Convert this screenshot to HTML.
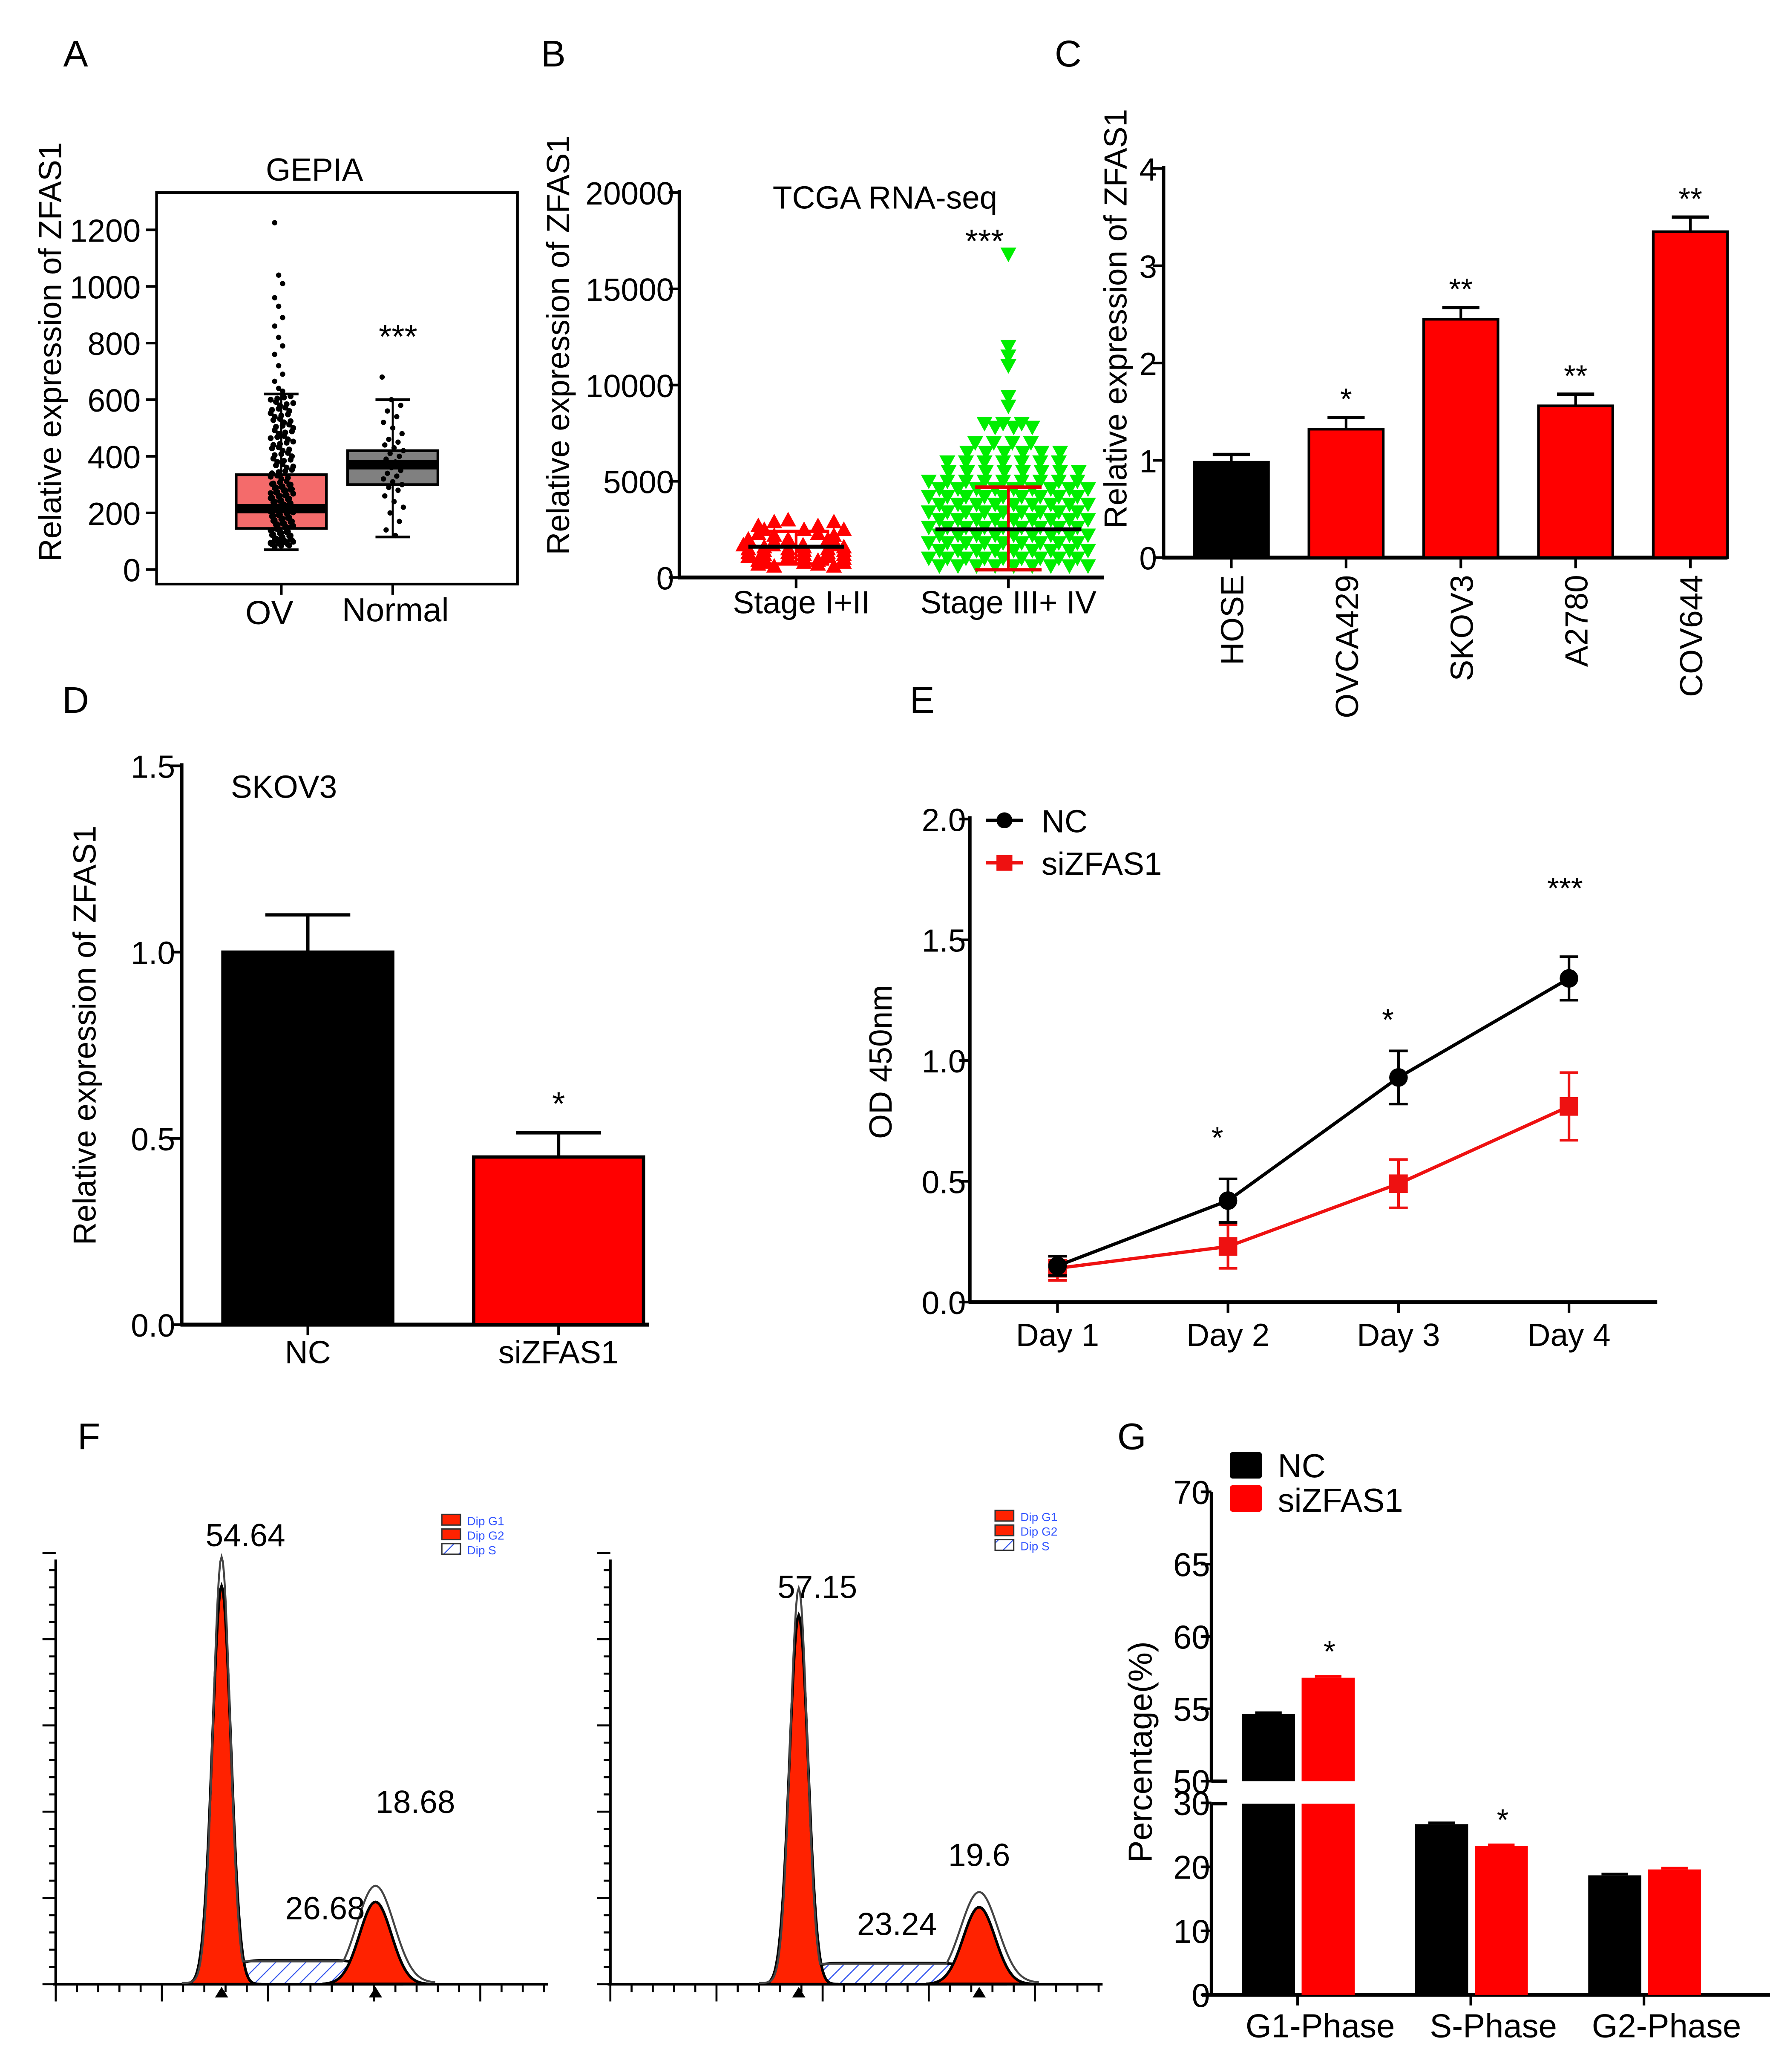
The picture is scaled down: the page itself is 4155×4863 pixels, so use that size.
<!DOCTYPE html>
<html><head><meta charset="utf-8">
<style>
html,body{margin:0;padding:0;background:#fff;}
svg{display:block;}
text{font-family:"Liberation Sans",Arial,sans-serif;fill:#000;}
</style></head>
<body>
<svg id="fig" xmlns="http://www.w3.org/2000/svg" width="4155" height="4863" viewBox="0 0 1334 1561">
<defs>
<pattern id="hatch" patternUnits="userSpaceOnUse" width="8" height="8" patternTransform="rotate(45)">
<rect width="8" height="8" fill="#fff"/><line x1="0" y1="0" x2="0" y2="8" stroke="#3355ee" stroke-width="1.6"/>
</pattern>
</defs>
<g id="root"></g>
</svg>
<script>
// ---------- DATA ----------
const aTicks=[0,200,400,600,800,1000,1200];
const aOVBox=[145,215,335,70,620];
const aNormBox=[300,370,420,115,600];
const aOVOut=[1225,1040,1010,960,930,890,860,820,790,760,720,690,665,640,630];
const aOVIn=[600,580,560,540,520,500,480,460,440,420,400,380,360,340,320,300,290,280,270,260,250,240,230,220,210,200,190,180,170,160,150,140,130,120,110,100,95,90,85,80];
const aNormPts=[680,600,580,560,540,520,500,480,460,450,440,430,420,410,400,390,380,370,360,350,340,330,320,310,300,290,280,260,240,220,200,170,140,120];
const bTicks=[0,5000,10000,15000,20000];
const bRedVals=[3000,2900,2700,2500,2300,2200,2000,1900,1700,1600,1500,1400,1300,1200,1100,1000,900,800,700,600];
const bRedCnt=[1,2,2,3,2,2,3,2,4,3,3,3,3,3,3,3,2,3,2,2];
const bRedMean=[1600,700,2400];
const bGreenVals=[16800,12000,11500,11000,9400,8900,8000,7800,7000,6500,6000,5500,5000,4600,4200,3800,3400,3000,2600,2200,1800,1400,1000,600];
const bGreenCnt=[1,1,1,1,1,1,3,3,4,6,7,8,9,9,9,9,9,9,9,9,9,9,9,9];
const bGreenMean=[2500,400,4700];
const cCats=["HOSE","OVCA429","SKOV3","A2780","COV644"];
const cVals=[0.98,1.32,2.45,1.56,3.35];
const cErr=[0.08,0.12,0.12,0.12,0.15];
const cStars=["","*","**","**","**"];
const cTicks=[0,1,2,3,4];
const dCats=["NC","siZFAS1"];
const dVals=[1.0,0.45];
const dErr=[0.1,0.065];
const dTicks=[0,0.5,1.0,1.5];
const eDays=["Day 1","Day 2","Day 3","Day 4"];
const eNC=[0.15,0.42,0.93,1.34];
const eNCerr=[0.04,0.09,0.11,0.09];
const eSi=[0.14,0.23,0.49,0.81];
const eSiErr=[0.05,0.09,0.1,0.14];
const eStars=["","*","*","***"];
const eTicks=[0,0.5,1.0,1.5,2.0];
const fLeft=[167,300,283,62,18];
const fRight=[602,278,738,58,16];
const fLeftLabels=["54.64","26.68","18.68"];
const fRightLabels=["57.15","23.24","19.6"];
const gCats=["G1-Phase","S-Phase","G2-Phase"];
const gNC=[54.64,26.68,18.68];
const gSi=[57.15,23.24,19.6];
const gStars=["*","*",""];
const gTicksLow=[0,10,20,30];
const gTicksHigh=[50,55,60,65,70];

const NS="http://www.w3.org/2000/svg";
const root=document.getElementById('root');
function mk(tag,attrs,parent){const e=document.createElementNS(NS,tag);for(const k in attrs)e.setAttribute(k,attrs[k]);(parent||root).appendChild(e);return e;}
function txt(x,y,s,size,anchor,parent,extra){const e=mk('text',Object.assign({x:x,y:y,'font-size':size,'text-anchor':anchor||'middle'},extra||{}),parent);e.textContent=s;return e;}
function line(x1,y1,x2,y2,w,col,parent){return mk('line',{x1:x1,y1:y1,x2:x2,y2:y2,stroke:col||'#000','stroke-width':w||2},parent);}
function grp(name){const g=mk('g',{});return g;}

[["A",57,50],["B",417,50],["C",805,50],["D",57,537],["E",695,537],["F",67,1092],["G",853,1092]].forEach(p=>{
 const t=txt(p[1],p[2],p[0],28,'middle');
 
 
});

// PANEL A
(function(){
 const g=grp('panel-a-gepia-boxplot');
 const y=v=>429-v*0.2133;
 mk('rect',{x:118,y:145,width:272,height:295,fill:'none',stroke:'#000','stroke-width':2},g);
 aTicks.forEach(t=>{line(110,y(t),118,y(t),2,'#000',g);txt(106,y(t)+9,String(t),24,'end',g);});
 txt(237,136,'GEPIA',24,'middle',g);
 const yt=txt(0,0,'Relative expression of ZFAS1',24,'middle',g,{transform:'translate(46,265) rotate(-90)'});
 
 line(212,440,212,448,2,'#000',g);line(296,440,296,448,2,'#000',g);
 txt(203,470,'OV',25,'middle',g);txt(298,468,'Normal',25,'middle',g);
 function box(cx,b,fill,name){
  const bg=mk('g',{},g);
  line(cx,y(b[4]),cx,y(b[3]),1.5,'#000',bg);
  line(cx-13,y(b[4]),cx+13,y(b[4]),2,'#000',bg);line(cx-13,y(b[3]),cx+13,y(b[3]),2,'#000',bg);
  mk('rect',{x:cx-34,y:y(b[2]),width:68,height:y(b[0])-y(b[2]),fill:fill,stroke:'#000','stroke-width':2},bg);
  mk('rect',{x:cx-34,y:y(b[1])-3.5,width:68,height:7,fill:'#000'},bg);
 }
 box(212,aOVBox,'#f46b6b','box-ov');
 box(296,aNormBox,'#808080','box-normal');
 aOVOut.forEach((v,i)=>{const c=mk('circle',{cx:207+(i%3)*3,cy:y(v),r:2,fill:'#000'},g);});
 aOVIn.forEach((v,i)=>{for(let k=0;k<4;k++){const c=mk('circle',{cx:204+((i*7+k*5)%18),cy:y(v+k*4),r:2.2,fill:'#000'},g);}});
 aNormPts.forEach((v,i)=>{const c=mk('circle',{cx:288+((i*7)%17),cy:y(v),r:2,fill:'#000'},g);});
 txt(300,262,'***',25,'middle',g);
})();

// PANEL B
(function(){
 const g=grp('panel-b-tcga-scatter');
 const y=v=>435-v*0.0145;
 line(512,143,512,436,2.5,'#000',g);line(511,435,832,435,3,'#000',g);
 bTicks.forEach(t=>{line(504,y(t),512,y(t),2,'#000',g);txt(508,y(t)+9,String(t),24,'end',g);});
 line(600,435,600,443,2,'#000',g);line(760,435,760,443,2,'#000',g);
 txt(604,462,'Stage I+II',24,'middle',g);txt(760,462,'Stage III+ IV',24,'middle',g);
 txt(667,157,'TCGA RNA-seq',24,'middle',g);txt(742,190,'***',25,'middle',g);
 txt(0,0,'Relative expression of ZFAS1',24,'middle',g,{transform:'translate(429,260) rotate(-90)'});
 function tri(cx,cy,up,col,name){const p=up?`${cx-6},${cy+5} ${cx+6},${cy+5} ${cx},${cy-6}`:`${cx-6},${cy-5} ${cx+6},${cy-5} ${cx},${cy+6}`;const e=mk('polygon',{points:p,fill:col},g);}
 bRedVals.forEach((v,i)=>{const n=bRedCnt[i];for(let k=0;k<n;k++){const off=(k-(n-1)/2)*(100/Math.max(n,1))*0.9+((i%2)?6:-6);tri(600+off,y(v),true,'#ff0000','point-stage-i-ii');}});
 bGreenVals.forEach((v,i)=>{const n=bGreenCnt[i];for(let k=0;k<n;k++){const off=(k-(n-1)/2)*14+((i%2)?4:-4)*(n>1?1:0);tri(760+off,y(v),false,'#00ee00','point-stage-iii-iv');}});
 function meanbar(cx,m,col,w){line(cx,y(m[2]),cx,y(m[1]),2,col,g);line(cx-25,y(m[2]),cx+25,y(m[2]),2.5,col,g);line(cx-25,y(m[1]),cx+25,y(m[1]),2.5,col,g);line(cx-w,y(m[0]),cx+w,y(m[0]),3,'#000',g);}
 meanbar(600,bRedMean,'#ff0000',36);meanbar(760,bGreenMean,'#e00000',55);
})();

// PANEL C
(function(){
 const g=grp('panel-c-cell-lines-bar');
 const y=v=>420-v*73.3;
 line(877,125,877,421,2.5,'#000',g);line(876,420,1302,420,3,'#000',g);
 cTicks.forEach(t=>{line(869,y(t),877,y(t),2,'#000',g);txt(872,y(t)+9,String(t),24,'end',g);});
 txt(0,0,'Relative expression of ZFAS1',24,'middle',g,{transform:'translate(849,240) rotate(-90)'});
 cVals.forEach((v,i)=>{
  const cx=928+i*86.5;
  const r=mk('rect',{x:cx-28,y:y(v),width:56,height:y(0)-y(v),fill:i==0?'#000':'#ff0000',stroke:'#000','stroke-width':2},g);
  
  line(cx,y(v),cx,y(v+cErr[i]),2,'#000',g);line(cx-14,y(v+cErr[i]),cx+14,y(v+cErr[i]),2.5,'#000',g);
  if(cStars[i])txt(cx,y(v+cErr[i])-6,cStars[i],23,'middle',g);
  line(cx,420,cx,428,2,'#000',g);
  txt(0,0,cCats[i],24,'end',g,{transform:`translate(${cx+9},433) rotate(-90)`});
 });
})();

// PANEL D
(function(){
 const g=grp('panel-d-skov3-bar');
 const y=v=>998-v*280.7;
 line(137,575,137,999,2.5,'#000',g);line(136,998,489,998,3,'#000',g);
 dTicks.forEach(t=>{line(129,y(t),137,y(t),2,'#000',g);txt(132,y(t)+9,t.toFixed(1),24,'end',g);});
 txt(214,601,'SKOV3',24,'middle',g);
 txt(0,0,'Relative expression of ZFAS1',24,'middle',g,{transform:'translate(72,780) rotate(-90)'});
 dVals.forEach((v,i)=>{
  const cx=232+i*189;
  const r=mk('rect',{x:cx-64,y:y(v),width:128,height:y(0)-y(v),fill:i==0?'#000':'#ff0000',stroke:'#000','stroke-width':2.5},g);
  
  line(cx,y(v),cx,y(v+dErr[i]),2.5,'#000',g);line(cx-32,y(v+dErr[i]),cx+32,y(v+dErr[i]),2.5,'#000',g);
  line(cx,998,cx,1006,2,'#000',g);
  txt(cx,1027,dCats[i],24,'middle',g);
 });
 txt(421,840,'*',25,'middle',g);
})();

// PANEL E
(function(){
 const g=grp('panel-e-proliferation-line');
 const y=v=>981-v*182;
 const x=i=>797+i*128.5;
 line(731,615,731,982,2.5,'#000',g);line(730,981,1249,981,3,'#000',g);
 eTicks.forEach(t=>{line(723,y(t),731,y(t),2,'#000',g);txt(728,y(t)+9,t.toFixed(1),24,'end',g);});
 txt(0,0,'OD 450nm',24,'middle',g,{transform:'translate(672,800) rotate(-90)'});
 eDays.forEach((d,i)=>{line(x(i),981,x(i),989,2,'#000',g);txt(x(i),1014,d,24,'middle',g);});
 function series(vals,errs,col,sq,name){
  const sg=mk('g',{},g);
  mk('polyline',{points:vals.map((v,i)=>x(i)+','+y(v)).join(' '),fill:'none',stroke:col,'stroke-width':2.5},sg);
  vals.forEach((v,i)=>{line(x(i),y(v+errs[i]),x(i),y(v-errs[i]),2,col,sg);line(x(i)-7,y(v+errs[i]),x(i)+7,y(v+errs[i]),2,col,sg);line(x(i)-7,y(v-errs[i]),x(i)+7,y(v-errs[i]),2,col,sg);
   if(sq)mk('rect',{x:x(i)-7,y:y(v)-7,width:14,height:14,fill:col},sg);else mk('circle',{cx:x(i),cy:y(v),r:7,fill:col},sg);});
 }
 series(eSi,eSiErr,'#ee1111',true,'series-sizfas1');
 series(eNC,eNCerr,'#000',false,'series-nc');
 eStars.forEach((s,i)=>{if(s)txt(x(i)-(i==3?3:8),[0,865,776,677][i],s,23,'middle',g);});
 line(743,618,771,618,2.5,'#000',g);mk('circle',{cx:757,cy:618,r:6,fill:'#000'},g);txt(785,627,'NC',24,'start',g);
 line(743,650,771,650,2.5,'#ee1111',g);mk('rect',{x:751,y:644,width:12,height:12,fill:'#ee1111'},g);txt(785,659,'siZFAS1',24,'start',g);
})();

// PANEL F
function flow(x0,base,p,labels,name,legX,legY,labelPos){
 const g=grp(name);
 const ax1=x0+371;
 line(x0,1175,x0,base+1,2,'#000',g);line(x0-2,base,ax1,base,2,'#000',g);
 for(let k=0;k<=23;k++){const xx=x0+k*16;line(xx,base,xx,base+(k%5==0?13:6),1.5,'#000',g);}
 for(let k=0;k<=25;k++){const yy=base-k*13;line(x0-(k%5==0?10:5),yy,x0,yy,1.5,'#000',g);}
 const gaus=(xx,c,h,s)=>h*Math.exp(-((xx-c)*(xx-c))/(2*s*s));
 let sp=[];for(let xx=p[0]-20;xx<=p[2]+20;xx+=2){const s=p[4]*(1/(1+Math.exp(-(xx-p[0]-8)/4)))*(1/(1+Math.exp((xx-p[2]+8)/4)));sp.push(xx+','+(base-s));}
 mk('polygon',{points:`${p[0]-20},${base} `+sp.join(' ')+` ${p[2]+20},${base}`,fill:'url(#hatch)',stroke:'#000','stroke-width':2},g);
 let g1=[];for(let xx=p[0]-30;xx<=p[0]+30;xx+=1)g1.push(xx+','+(base-gaus(xx,p[0],p[1],7)));
 mk('polygon',{points:g1.join(' '),fill:'#ff2200',stroke:'#000','stroke-width':2},g);
 let g2=[];for(let xx=p[2]-40;xx<=p[2]+40;xx+=1)g2.push(xx+','+(base-gaus(xx,p[2],p[3],12)));
 mk('polygon',{points:g2.join(' '),fill:'#ff2200',stroke:'#000','stroke-width':2},g);
 let env=[];for(let xx=p[0]-30;xx<=p[2]+45;xx+=1){const s=(xx>p[0]&&xx<p[2])?p[4]:0;env.push(xx+','+(base-Math.max(gaus(xx,p[0],p[1]*1.07,6.5),gaus(xx,p[2],p[3]*1.18,14),s*0.9)-1));}
 mk('polyline',{points:env.join(' '),fill:'none',stroke:'#444','stroke-width':1.5},g);
 mk('polygon',{points:`${p[0]-5},${base+10} ${p[0]+5},${base+10} ${p[0]},${base+2}`,fill:'#000'},g);
 mk('polygon',{points:`${p[2]-5},${base+10} ${p[2]+5},${base+10} ${p[2]},${base+2}`,fill:'#000'},g);
 labels.forEach((l,i)=>txt(labelPos[i][0],labelPos[i][1],l,24,'middle',g));
 const lg=mk('g',{},g);
 mk('rect',{x:legX,y:legY,width:14,height:8,fill:'#ff2200',stroke:'#333','stroke-width':1},lg);
 mk('rect',{x:legX,y:legY+11,width:14,height:8,fill:'#ff2200',stroke:'#333','stroke-width':1},lg);
 mk('rect',{x:legX,y:legY+22,width:14,height:8,fill:'url(#hatch)',stroke:'#333','stroke-width':1},lg);
 ['Dip G1','Dip G2','Dip S'].forEach((s,i)=>{const t=txt(legX+19,legY+8+i*11,s,9,'start',lg);t.setAttribute('style','fill:#3355ff');});
}
flow(42,1495,fLeft,fLeftLabels,'panel-f-flow-nc',333,1141,[[185,1165],[245,1446],[313,1366]]);
flow(460,1495,fRight,fRightLabels,'panel-f-flow-sizfas1',750,1138,[[616,1204],[676,1458],[738,1406]]);

// PANEL G
(function(){
 const g=grp('panel-g-cell-cycle-bar');
 const yL=v=>1503-v*4.82;
 const yH=v=>1342-(v-50)*10.9;
 const yv=v=>v>=50?yH(v):yL(v);
 line(913,1124,913,1343,2.5,'#000',g);line(913,1359,913,1504,2.5,'#000',g);
 line(913,1342,925,1342,2.5,'#000',g);line(913,1359,925,1359,2.5,'#000',g);
 line(906,1503,1338,1503,3,'#000',g);
 gTicksHigh.forEach(t=>{line(905,yH(t),913,yH(t),2,'#000',g);txt(912,yH(t)+9,String(t),25,'end',g);});
 gTicksLow.forEach(t=>{line(905,yL(t),913,yL(t),2,'#000',g);txt(912,yL(t)+9,String(t),25,'end',g);});
 txt(0,0,'Percentage(%)',25,'middle',g,{transform:'translate(868,1320) rotate(-90)'});
 gCats.forEach((c,i)=>{
  const cx=978+i*130.5;
  [[gNC[i],'#000',cx-22,'nc'],[gSi[i],'#ff0000',cx+23,'sizfas1']].forEach(b=>{
   const v=b[0],bx=b[2];
   const bg=mk('g',{},g);
   if(v>=50){
    mk('rect',{x:bx-20,y:yH(v),width:40,height:1342-yH(v),fill:b[1]},bg);
    mk('rect',{x:bx-20,y:1359,width:40,height:1503-1359,fill:b[1]},bg);
   } else mk('rect',{x:bx-20,y:yL(v),width:40,height:1503-yL(v),fill:b[1]},bg);
   line(bx-10,yv(v)-1,bx+10,yv(v)-1,2,b[1],bg);
  });
  line(cx,1503,cx,1511,2,'#000',g);
  txt(cx+17,1535,c,25,'middle',g);
  if(gStars[i])txt(cx+24,yv(gSi[i])-12,gStars[i],23,'middle',g);
 });
 const lg=mk('g',{},g);
 mk('rect',{x:927,y:1094,width:24,height:20,rx:2,fill:'#000'},lg);txt(963,1113,'NC',25,'start',lg);
 mk('rect',{x:927,y:1119,width:24,height:20,rx:2,fill:'#ff0000'},lg);txt(963,1139,'siZFAS1',25,'start',lg);
})();
</script>
</body></html>
